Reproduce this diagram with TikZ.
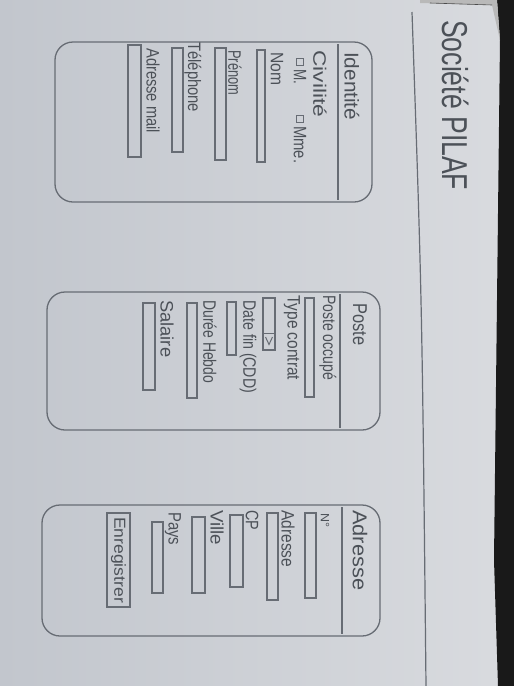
\documentclass[tikz,border=0pt]{standalone}
\usepackage{fontspec}
\setmainfont{Liberation Sans}
\newfontfamily\hand{Liberation Sans}
\usepackage{graphicx}
\definecolor{paperA}{HTML}{C2C6CD}
\definecolor{paperB}{HTML}{D9DBDF}
\definecolor{pencil}{HTML}{676C74}
\definecolor{ink}{HTML}{4C5158}
% stretch a handwritten word to a given length, keeping its height
\newcommand\hw[2]{\resizebox{#1pt}{\height}{#2}}
\begin{document}
\begin{tikzpicture}[x=1pt,y=-1pt,
  lbl/.style={rotate=-90, anchor=west, inner sep=0pt, text=ink,
    font=\hand\fontsize{18}{18}\selectfont},
  head/.style={lbl, font=\hand\fontsize{20}{20}\selectfont},
  fbox/.style={draw=pencil, line width=1.2pt, inner sep=0pt},
  panel/.style={draw=pencil, line width=1.3pt, rounded corners=18pt, inner sep=0pt},
  rule/.style={draw=pencil, line width=1.2pt},
  chk/.style={draw=pencil, line width=1pt, inner sep=0pt, minimum size=7pt}]
\useasboundingbox (0,0) rectangle (514,686);
% paper and the dark desk beside it
\shade[left color=paperA, right color=paperB] (0,0) rectangle (514,686);
\fill[black!90] (497,0) -- (514,0) -- (514,686) -- (498,686) -- (494,560) -- (497,300) -- (500,40) -- cycle;
% edges of the sheets stacked underneath
\fill[gray!55] (420,0) -- (497,0) -- (500,40) -- (492,5) -- (420,3) -- cycle;
\draw[black!70, line width=0.6pt] (430,3) -- (492,5);

% title strip
\draw[rule] (412,12) .. controls (422,300) .. (426,686);
\node[lbl, font=\hand\fontsize{36}{36}\selectfont] (title) at (456,20) {\hw{170}{Société PILAF}};

% ---- Identité ----
\node[panel, minimum width=317pt, minimum height=160pt] (p1) at (213.5,122) {};
\draw[rule] (338,44) -- (338,200);
\node[head] (h1) at (352,52) {\hw{68}{Identité}};
\node[lbl] (civ) at (320,50) {\hw{67}{Civilité}};
\node[chk] (cbM) at (300,62) {};
\node[lbl] (tM) at (300,69) {\hw{15}{M.}};
\node[chk] (cbMme) at (300,119) {};
\node[lbl] (tMme) at (300,126) {\hw{37}{Mme.}};
\node[lbl] (nom) at (277,52) {\hw{33}{Nom}};
\node[fbox, minimum width=8pt, minimum height=112pt] (fNom) at (261,106) {};
\node[lbl] (pre) at (235,50) {\hw{45}{Prénom}};
\node[fbox, minimum width=11pt, minimum height=112pt] (fPre) at (220.5,104) {};
\node[lbl] (tel) at (193,42) {\hw{70}{Téléphone}};
\node[fbox, minimum width=11pt, minimum height=104pt] (fTel) at (177.5,100) {};
\node[lbl] (mail) at (153,48) {\hw{85}{Adresse mail}};
\node[fbox, minimum width=13pt, minimum height=112pt] (fMail) at (134.5,101) {};

% ---- Poste ----
\node[panel, minimum width=333pt, minimum height=138pt] (p2) at (213.5,361) {};
\draw[rule] (340,294) -- (340,428);
\node[head] (h2) at (360,303) {\hw{42}{Poste}};
\node[lbl] (occ) at (328,295) {\hw{85}{Poste occupé}};
\node[fbox, minimum width=9pt, minimum height=99pt] (fOcc) at (309.5,347.5) {};
\node[lbl] (typ) at (292,295) {\hw{85}{Type contrat}};
\node[fbox, minimum width=12pt, minimum height=52pt] (fTyp) at (269,324) {};
\draw[rule, line width=1pt] (263,333) -- (275,333);
\draw[draw=pencil, line width=1pt] (265.5,337) -- (269,344.5) -- (272.5,337);
\node[lbl] (fin) at (248,300) {\hw{93}{Date fin (CDD)}};
\node[fbox, minimum width=9pt, minimum height=53pt] (fFin) at (231.5,328.5) {};
\node[lbl] (heb) at (210,300) {\hw{83}{Durée Hebdo}};
\node[fbox, minimum width=10pt, minimum height=95pt] (fHeb) at (192,350.5) {};
\node[lbl] (sal) at (167,300) {\hw{57}{Salaire}};
\node[fbox, minimum width=12pt, minimum height=87pt] (fSal) at (149,346.5) {};

% ---- Adresse ----
\node[panel, minimum width=338pt, minimum height=131pt] (p3) at (211,570.5) {};
\draw[rule] (342,507) -- (342,634);
\node[head] (h3) at (360,510) {\hw{80}{Adresse}};
\node[lbl, font=\hand\fontsize{12}{12}\selectfont] (num) at (325,513) {\hw{14}{N°}};
\node[fbox, minimum width=11pt, minimum height=85pt] (fNum) at (310.5,555.5) {};
\node[lbl] (adr) at (288,510) {\hw{57}{Adresse}};
\node[fbox, minimum width=11pt, minimum height=87pt] (fAdr) at (272.5,556.5) {};
\node[lbl] (cp) at (252,510) {\hw{20}{CP}};
\node[fbox, minimum width=13pt, minimum height=72pt] (fCp) at (236.5,551) {};
\node[lbl] (vil) at (217,510) {\hw{35}{Ville}};
\node[fbox, minimum width=13pt, minimum height=76pt] (fVil) at (198.5,555) {};
\node[lbl] (pay) at (173,512) {\hw{33}{Pays}};
\node[fbox, minimum width=11pt, minimum height=71pt] (fPay) at (157.5,557.5) {};
\node[fbox, minimum width=23pt, minimum height=94pt] (btn) at (118.5,560) {};
\node[lbl, anchor=center, font=\hand\fontsize{16}{16}\selectfont] (btnT) at (btn.center) {\hw{86}{Enregistrer}};
\end{tikzpicture}
\end{document}
